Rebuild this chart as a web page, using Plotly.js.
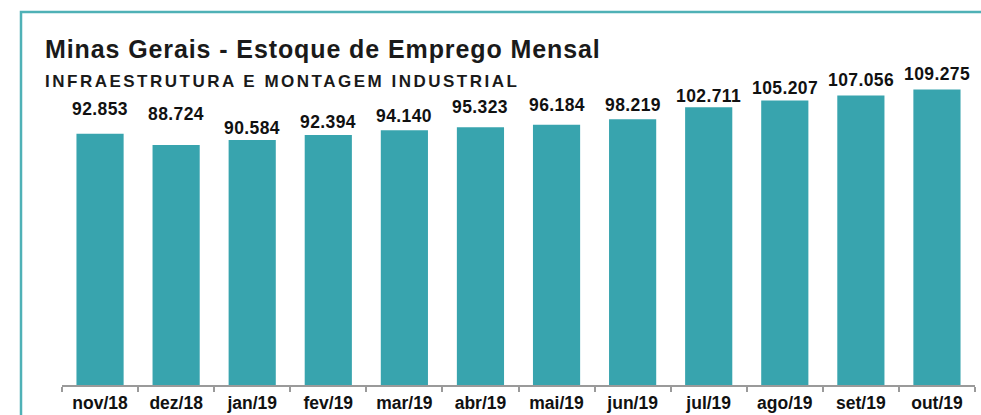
<!DOCTYPE html>
<html>
<head>
<meta charset="utf-8">
<script src="https://cdn.plot.ly/plotly-3.0.1.min.js"></script>
<style>
html,body{margin:0;padding:0;background:#fff;}
#chart{width:981px;height:415px;}
</style>
</head>
<body>
<div id="chart"></div>
<script>
// Data
var categories = ["nov/18","dez/18","jan/19","fev/19","mar/19","abr/19","mai/19","jun/19","jul/19","ago/19","set/19","out/19"];
var values = [92.853, 88.724, 90.584, 92.394, 94.140, 95.323, 96.184, 98.219, 102.711, 105.207, 107.056, 109.275];
var valueLabels = ["92.853","88.724","90.584","92.394","94.140","95.323","96.184","98.219","102.711","105.207","107.056","109.275"];

// Label placement (pixels above bar top) – layout only
var labelGap = [18, 24, 5, 6, 7, 13, 13, 7, 4, 5, 8, 8];

var FONT = "Liberation Sans, Arial, Helvetica, sans-serif";
var barColor = "#38A4AE";
var borderColor = "#4FB1B6";

var W = 981, H = 415;
var L = 62, R = 6, T = 60, B = 30;
var pw = W - L - R, ph = H - T - B;
function px(x){ return (x - L) / pw; }
function py(y){ return (H - B - y) / ph; }

var annotations = categories.map(function(c, i){
  return {
    x: c, y: values[i], xref: "x", yref: "y",
    text: "<b><span style=\"letter-spacing:0.4px\">" + valueLabels[i] + "</span></b>",
    showarrow: false, xanchor: "center", yanchor: "bottom",
    yshift: labelGap[i] - 5,
    font: {family: FONT, size: 17.5, color: "#111111"}
  };
});

annotations.push({
  x: px(43), y: py(81.5), xref: "paper", yref: "paper",
  xanchor: "left", yanchor: "middle", showarrow: false,
  text: "<b><span style=\"letter-spacing:2.5px\">INFRAESTRUTURA E MONTAGEM INDUSTRIAL</span></b>",
  font: {family: FONT, size: 17, color: "#1a1a1a"}
});
annotations.push({
  x: px(43), y: py(48.5), xref: "paper", yref: "paper",
  xanchor: "left", yanchor: "middle", showarrow: false,
  text: "<b><span style=\"letter-spacing:0.9px\">Minas Gerais - Estoque de Emprego Mensal</span></b>",
  font: {family: FONT, size: 25, color: "#1a1a1a"}
});

var trace = {
  type: "bar",
  x: categories,
  y: values,
  marker: {color: barColor},
  hoverinfo: "x+y"
};

var layout = {
  width: W, height: H,
  margin: {l: L, r: R, t: T, b: B, pad: 0},
  paper_bgcolor: "#ffffff",
  plot_bgcolor: "#ffffff",
  showlegend: false,
  bargap: 0.38,
  xaxis: {
    type: "category",
    showgrid: false, zeroline: false,
    showline: true, linecolor: "#9a9a9a", linewidth: 2,
    ticks: "outside", tickson: "boundaries", ticklen: 5, tickwidth: 2, tickcolor: "#9a9a9a",
    tickfont: {family: FONT, size: 17.5, color: "#111111"},
    tickprefix: "<b>", ticksuffix: "</b>",
    ticklabelstandoff: 1
  },
  yaxis: {
    range: [0, (H - B - T) / 2.705],
    visible: false, showgrid: false, zeroline: false
  },
  annotations: annotations,
  shapes: [{
    type: "path", xref: "paper", yref: "paper",
    path: "M " + px(21) + " " + py(416) + " L " + px(21) + " " + py(12) + " L " + px(982) + " " + py(12),
    line: {color: borderColor, width: 2.5}
  }]
};

Plotly.newPlot("chart", [trace], layout, {displayModeBar: false, staticPlot: true});
</script>
</body>
</html>
